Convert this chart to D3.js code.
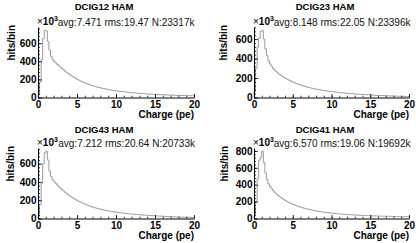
<!DOCTYPE html>
<html><head><meta charset="utf-8">
<script src="https://cdn.jsdelivr.net/npm/d3@7"></script>
<style>body{margin:0;background:#fff}svg{display:block}</style>
</head><body>
<script>
// ---- data ----
const titles = ["DCIG12 HAM", "DCIG23 HAM", "DCIG43 HAM", "DCIG41 HAM"];
const statsText = [
  "avg:7.471 rms:19.47 N:23317k",
  "avg:8.148 rms:22.05 N:23396k",
  "avg:7.212 rms:20.64 N:20733k",
  "avg:6.570 rms:19.06 N:19692k"
];
const xTitle = "Charge (pe)";
const yTitle = "hits/bin";
const xTicks = [0, 5, 10, 15, 20];
const yTicksList = [[0,200,400,600],[0,200,400,600],[0,200,400,600],[0,200,400,600,800]];
const chargeRange = [0, 20];
const binWidth = 0.2;
// bin contents (x10^3 hits/bin), bins of 0.2 pe from 0 to 20
const dcig12 = [
  30,170,420,650,742,738,620,525,455,420,
  400,382,366,350,335,320,305,291,278,265,
  253,241,230,219,209,199,190,181,173,165,
  158,151,145,139,133,128,123,118,113,109,
  105,101,97,94,90,87,84,81,78,76,
  73,71,68,66,64,62,60,58,56,54,
  53,51,50,48,47,45,44,43,41,40,
  39,38,37,36,35,34,33,32,31,31,
  30,29,28,28,27,26,26,25,24,24,
  23,23,22,22,21,21,20,20,19,19
];
const dcig23 = [
  60,300,520,610,680,690,600,500,430,375,
  345,320,298,280,265,251,238,226,215,205,
  196,187,179,171,163,156,149,143,137,131,
  126,121,116,111,107,103,99,95,91,88,
  85,82,79,76,73,71,68,66,64,62,
  60,58,56,54,52,50,49,47,46,44,
  43,41,40,39,38,36,35,34,33,32,
  31,30,29,28,27,26,25,24,23,22,
  21,21,20,19,18,18,17,16,16,15,
  15,14,14,13,13,12,12,11,11,10
];
const dcig43 = [
  25,150,380,600,720,735,640,520,460,425,
  405,385,365,347,331,315,300,286,272,259,
  247,235,224,214,204,195,186,178,170,162,
  155,148,141,135,129,123,118,113,108,104,
  100,96,92,88,85,82,79,76,73,70,
  68,65,63,61,59,57,55,53,51,49,
  48,46,45,43,42,40,39,38,36,35,
  34,33,32,31,30,29,28,27,26,25,
  24,23,22,21,21,20,19,18,18,17,
  16,16,15,15,14,14,13,13,12,12
];
const dcig41 = [
  40,200,470,690,725,795,660,540,460,410,
  378,352,330,310,292,276,261,247,234,222,
  211,201,191,182,174,166,158,151,145,139,
  133,127,122,117,112,108,104,100,96,92,
  89,86,83,80,77,74,72,69,67,65,
  63,61,59,57,55,54,52,51,49,48,
  46,45,44,43,42,41,40,39,38,37,
  36,35,34,34,33,32,31,31,30,29,
  29,28,28,27,27,26,26,25,25,24,
  24,23,23,23,22,22,22,21,21,21
];
const series = [dcig12, dcig23, dcig43, dcig41];

// ---- layout ----
const W = 416, H = 243;
const plotH = 70.5;
const layout = [
  {x0:38,  x1:194, y0:97.5,  tx:104, ty:10,    yt:15,  sr:194.5},
  {x0:254, x1:409, y0:97.5,  tx:325, ty:10,    yt:226.5, sr:410.5},
  {x0:38,  x1:194, y0:218.5, tx:104, ty:132.8, yt:13.5, sr:195},
  {x0:254, x1:409, y0:218.5, tx:325, ty:132.8, yt:228, sr:410.5}
];
const FONT = "'Liberation Sans', Arial, Helvetica, sans-serif";

const svg = d3.select("body").append("svg").attr("width", W).attr("height", H);
svg.append("rect").attr("width", W).attr("height", H).attr("fill", "#fff");

series.forEach((vals, i) => {
  const L = layout[i];
  const x = d3.scaleLinear().domain(chargeRange).range([L.x0, L.x1]);
  const y = d3.scaleLinear().domain([0, d3.max(vals) * 1.05]).range([L.y0, L.y0 - plotH]);
  const g = svg.append("g");

  // histogram outline
  const pts = [[chargeRange[0], 0]];
  vals.forEach((v, j) => pts.push([chargeRange[0] + j * binWidth, v]));
  pts.push([chargeRange[1], vals[vals.length - 1]]);
  const line = d3.line().x(d => x(d[0])).y(d => y(d[1])).curve(d3.curveStepAfter);
  g.append("path").attr("d", line(pts)).attr("fill", "none")
    .attr("stroke", "#9a9a9a").attr("stroke-width", 1);

  // x minor ticks
  g.append("g").attr("transform", `translate(0,${L.y0})`)
    .call(d3.axisBottom(x).tickValues(d3.range(0, 21, 1)).tickSizeInner(-1.8).tickSizeOuter(0).tickFormat(""))
    .call(s => s.select(".domain").remove());
  // x major
  const xa = g.append("g").attr("transform", `translate(0,${L.y0})`)
    .call(d3.axisBottom(x).tickValues(xTicks).tickSizeInner(-3.5).tickSizeOuter(0).tickPadding(3.2).tickFormat(d3.format("d")));
  // y minor
  const yMinor = d3.range(0, y.domain()[1], 40);
  g.append("g").attr("transform", `translate(${L.x0},0)`)
    .call(d3.axisLeft(y).tickValues(yMinor).tickSizeInner(-2).tickSizeOuter(0).tickFormat(""))
    .call(s => s.select(".domain").remove());
  // y major
  const ya = g.append("g").attr("transform", `translate(${L.x0},0)`)
    .call(d3.axisLeft(y).tickValues(yTicksList[i]).tickSizeInner(-4).tickSizeOuter(0).tickPadding(1.5).tickFormat(d3.format("d")));

  [xa, ya].forEach(a => {
    a.selectAll("text").attr("font-family", FONT).attr("font-weight", "bold")
      .attr("font-size", 10).attr("fill", "#000");
  });
  g.selectAll(".domain").attr("stroke", "#000").attr("stroke-width", 1);
  g.selectAll(".tick line").attr("stroke", "#000").attr("stroke-width", 0.8);

  // title
  g.append("text").attr("x", L.tx).attr("y", L.ty).attr("text-anchor", "middle")
    .attr("font-family", FONT).attr("font-weight", "bold").attr("font-size", 9.5)
    .text(titles[i]);

  // x title
  g.append("text").attr("x", L.x1).attr("y", L.y0 + 20.8).attr("text-anchor", "end")
    .attr("font-family", FONT).attr("font-weight", "bold").attr("font-size", 10)
    .text(xTitle);

  // y title
  g.append("text").attr("transform", `translate(${L.yt},${L.y0 - plotH - 2}) rotate(-90)`)
    .attr("text-anchor", "end")
    .attr("font-family", FONT).attr("font-weight", "bold").attr("font-size", 10)
    .text(yTitle);

  // x10^3 exponent
  const ex = g.append("text").attr("x", L.x0 - 1).attr("y", L.y0 - plotH - 2)
    .attr("font-family", FONT).attr("font-size", 10);
  ex.append("tspan").text("×");
  ex.append("tspan").attr("font-weight", "bold").text("10");
  ex.append("tspan").attr("font-weight", "bold").attr("font-size", 7).attr("dy", -4).text("3");

  // stats text
  g.append("text").attr("x", L.sr).attr("y", L.y0 - plotH - 1).attr("text-anchor", "end")
    .attr("font-family", FONT).attr("font-size", 10).attr("fill", "#111")
    .text(statsText[i]);
});
</script>
</body></html>
